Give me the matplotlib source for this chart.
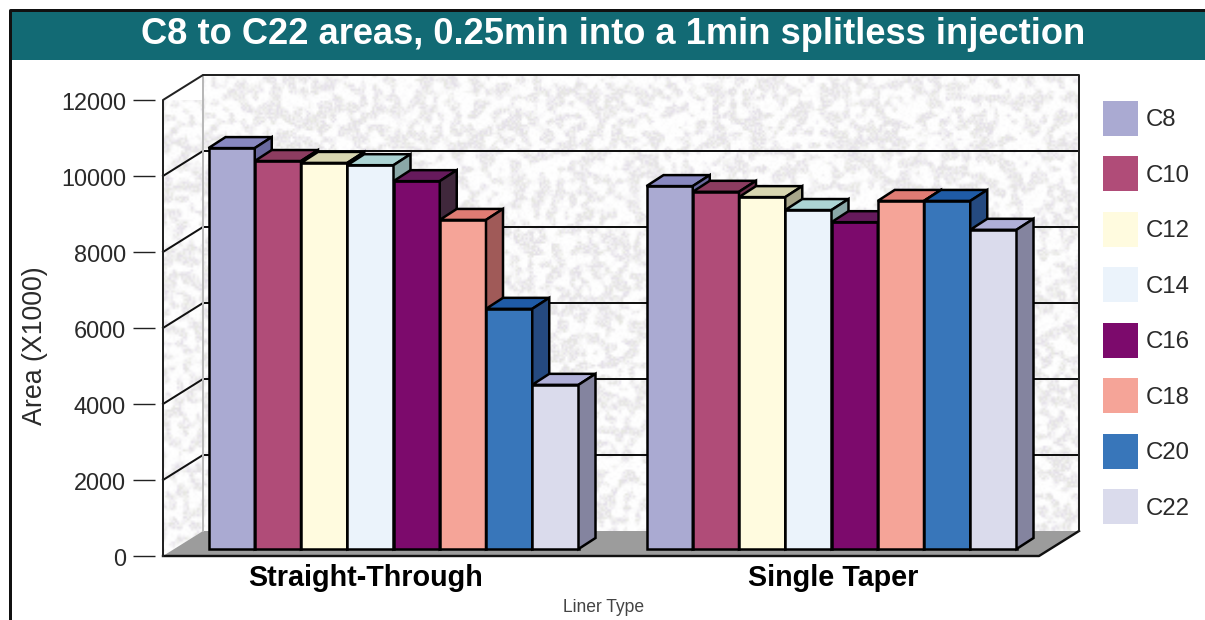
import matplotlib
matplotlib.use("Agg")
import matplotlib.pyplot as plt
import numpy as np
from matplotlib.patches import Patch, Polygon, Rectangle
from matplotlib.transforms import Affine2D

# Data
liner_types = ["Straight-Through", "Single Taper"]
carbons = ["C8", "C10", "C12", "C14", "C16", "C18", "C20", "C22"]
straight_through = [10550, 10210, 10160, 10100, 9680, 8660, 6320, 4320]
single_taper = [9550, 9400, 9260, 8920, 8600, 9160, 9160, 8400]
y_ticks = [0, 2000, 4000, 6000, 8000, 10000, 12000]

# Colours
front_colors = ["#aaaad2", "#b04c78", "#fffbdf", "#ebf3fb", "#7c0a6c", "#f5a498", "#3876ba", "#dadbec"]
top_colors = ["#8888c0", "#8c3c60", "#d8d6b0", "#acd4d4", "#661a5c", "#e07c74", "#1f5ba6", "#b0b0d8"]
side_colors = ["#6a6aa0", "#70304c", "#a8a68a", "#8aa8a8", "#40283c", "#a05a58", "#254a80", "#84849f"]
TEXT = "#2a2a2a"

W, H = 1205, 620
plt.rcParams["font.family"] = ["Liberation Sans", "DejaVu Sans"]

# dpi 72 so that points are pixels
fig = plt.figure(figsize=(W / 72, H / 72), dpi=72)

# Axes is the front plane of the 3D box
LEFT, RIGHT, TOP, BOTTOM = 163, 1039, 100, 556
ax = fig.add_axes([LEFT / W, 1 - BOTTOM / H, (RIGHT - LEFT) / W, (BOTTOM - TOP) / H])
ax.set_xlim(-0.5, 1.5)
ax.set_ylim(0, 12000)
ax.patch.set_visible(False)

# pixel -> data unit
px_x = 2 / (RIGHT - LEFT)
px_y = 12000 / (BOTTOM - TOP)
wall_dx, wall_dy = 40 * px_x, 25 * px_y
bar_dx, bar_dy = 11.5 * px_x, 7 * px_y
depth_dx, depth_dy = 17 * px_x, 11 * px_y
bar_w = 46.25 * px_x


def hash_noise(xx, yy, a, b, c):
    return (np.sin(xx * a + yy * b) * c) % 1


# Speckle texture for the walls: faint grey blotches with fine coloured grain
yy, xx = np.mgrid[0:230, 0:440]
cy, cx = np.mgrid[0:77, 0:147]
coarse = hash_noise(cx, cy, 12.9898, 78.233, 43758.5453)
coarse = np.kron(coarse, np.ones((3, 3)))[:230, :440]
blob = sum(np.roll(coarse, (dy, dx), (0, 1)) for dy in (0, 1, 2) for dx in (0, 1, 2)) / 9
fine = hash_noise(xx, yy, 39.346, 11.135, 24634.6345)
fine2 = hash_noise(xx, yy, 73.156, 52.235, 9631.7412)
shade = np.clip((blob - 0.38) * 3.5, 0, 1)
grain = np.clip(shade * (0.35 + 0.85 * fine) + 0.45 * np.clip(fine - 0.55, 0, 1), 0, 1)
tex = np.stack([1 - 0.1 * grain * (0.95 + 0.1 * fine2),
                1 - 0.1 * grain * (0.9 + 0.35 * fine2),
                1 - 0.1 * grain * (1.2 - 0.4 * fine2)], axis=-1)

xl, xr = -0.5, 1.5
ax.imshow(tex, extent=(xl + wall_dx, xr + wall_dx, wall_dy, 12000 + wall_dy),
          aspect="auto", interpolation="bilinear", zorder=0, clip_on=False)
left_wall = ax.imshow(tex[:, :20], extent=(xl, xl + wall_dx, 0, 12000 + wall_dy),
                      aspect="auto", interpolation="bilinear", zorder=0)
left_wall.set_clip_path(Polygon([(xl, 0), (xl, 12000), (xl + wall_dx, 12000 + wall_dy), (xl + wall_dx, wall_dy)],
                                transform=ax.transData))
ax.set_xlim(xl, xr)
ax.set_ylim(0, 12000)

# Floor
ax.add_patch(Polygon([(xl, 0), (xl + wall_dx, wall_dy), (xr + wall_dx, wall_dy), (xr, 0)], closed=True,
                     facecolor="#9c9c9c", edgecolor="none", zorder=1, clip_on=False))
ax.plot([xl, xr, xr + wall_dx], [0, 0, wall_dy], color="#111111", lw=2.4, zorder=2, clip_on=False)

# Gridlines on the walls
for v in y_ticks[1:-1]:
    ax.plot([xl, xl + wall_dx, xr + wall_dx], [v, v + wall_dy, v + wall_dy], color="#111111", lw=2,
            zorder=2, clip_on=False)

# Wall outlines
ax.plot([xl + wall_dx, xl + wall_dx], [wall_dy, 12000 + wall_dy], color="#b8b8b8", lw=2, zorder=2, clip_on=False)
ax.plot([xl, xl, xl + wall_dx, xr + wall_dx, xr + wall_dx],
        [0, 12000, 12000 + wall_dy, 12000 + wall_dy, wall_dy], color="#222222", lw=2, zorder=2, clip_on=False)

# Bars
z = 3
for cat, values in enumerate([straight_through, single_taper]):
    for i, value in enumerate(values):
        x0 = cat + bar_dx + (i - 4) * bar_w
        x1 = x0 + bar_w
        y0 = bar_dy
        y1 = bar_dy + value
        ax.bar(x0, value, bar_w, bottom=y0, align="edge", color=front_colors[i], edgecolor="black",
               linewidth=2.5, zorder=z, clip_on=False)
        ax.add_patch(Polygon([(x0, y1), (x1, y1), (x1 + depth_dx, y1 + depth_dy), (x0 + depth_dx, y1 + depth_dy)],
                             facecolor=top_colors[i], edgecolor="black", lw=2.5, zorder=z, clip_on=False))
        ax.add_patch(Polygon([(x1, y0), (x1, y1), (x1 + depth_dx, y1 + depth_dy), (x1 + depth_dx, y0 + depth_dy)],
                             facecolor=side_colors[i], edgecolor="black", lw=2.5, zorder=z, clip_on=False))
        z += 1

# Axes furniture
for side in ax.spines:
    ax.spines[side].set_visible(False)
ax.spines["left"].set_position(("outward", 8))
ax.set_yticks(y_ticks)
ax.tick_params(axis="y", length=22, width=1.4, pad=7, labelsize=23.5, color="#222222", labelcolor=TEXT)
for label in ax.get_yticklabels():
    label.set_transform(label.get_transform() + Affine2D().translate(0, -2))
ax.set_xticks([])

label_shift = [-0.038, 0.031]
for cat, name in enumerate(liner_types):
    ax.annotate(name, (cat + label_shift[cat], 0), xytext=(0, -22.5), textcoords="offset points",
                ha="center", va="center", fontsize=28.8, fontweight="bold", color="black")
fig.text(604 / W, 1 - 607 / H, "Liner Type", ha="center", va="center", fontsize=17.5, color="#444444")
fig.text(35.5 / W, 1 - 346 / H, "Area (X1000)", ha="center", va="center", rotation=90, fontsize=26.8, color=TEXT)

# Legend
handles = [Patch(facecolor=c, edgecolor="none", label=n) for c, n in zip(front_colors, carbons)]
fig.legend(handles=handles, loc="upper left", bbox_to_anchor=(1103 / W, 1 - 101 / H), frameon=False,
           fontsize=24, borderpad=0, borderaxespad=0, handlelength=1.46, handleheight=1.866,
           labelspacing=0.854, handletextpad=0.33, labelcolor=TEXT)

# Title banner and frame
fig.add_artist(Rectangle((10 / W, 1 - 60 / H), 1 - 10 / W, 49 / H, transform=fig.transFigure,
                         facecolor="#126a74", edgecolor="none", zorder=-1))
fig.add_artist(plt.Line2D([9.5 / W, 9.5 / W, 1], [0, 1 - 10 / H, 1 - 10 / H], color="#111111", lw=3))
fig.text(613 / W, 1 - 34 / H, "C8 to C22 areas, 0.25min into a 1min splitless injection", ha="center", va="center",
         fontsize=36.2, fontweight="bold", color="white")

fig.savefig("out.png", dpi=72)
